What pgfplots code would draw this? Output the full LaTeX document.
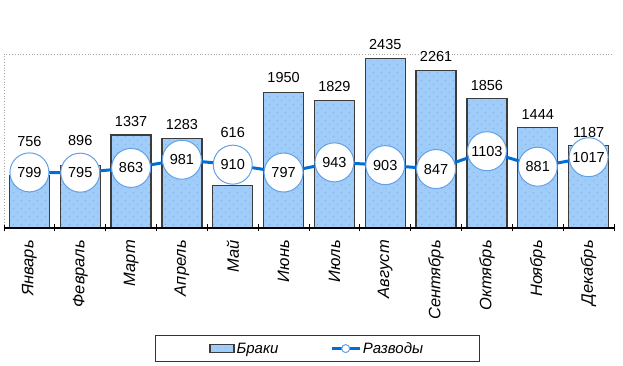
\documentclass[border=0pt]{standalone}
\usepackage{pgfplots}
\usepackage{pgfplotstable}
\pgfplotsset{compat=1.18}
\usepackage{fontspec}
\setmainfont{Liberation Sans}
\usetikzlibrary{patterns.meta}
\definecolor{barfill}{RGB}{160,204,250}
\definecolor{bardraw}{RGB}{60,60,60}
\definecolor{linecol}{RGB}{0,110,210}
\definecolor{circcol}{RGB}{100,160,230}
\definecolor{dotcol}{RGB}{90,150,230}
\tikzdeclarepattern{
  name=mydots,
  type=uncolored,
  bounding box={(0pt,0pt) and (8pt,8pt)},
  tile size={(8pt,8pt)},
  code={\fill (2pt,2pt) circle (0.5pt); \fill (6pt,6pt) circle (0.5pt);}
}
\pgfplotstableread{
x y off
0 756 28
1 896 19
2 1337 8
3 1283 8
4 616 47
5 1950 9
6 1829 8
7 2435 8
8 2261 8
9 1856 8
10 1444 7
11 1187 7
}\braki
\pgfplotstableread{
x y
0 799
1 795
2 863
3 981
4 910
5 797
6 943
7 903
8 847
9 1103
10 881
11 1017
}\razvody
\begin{document}
\begin{tikzpicture}
\useasboundingbox (-4pt,-138pt) rectangle (619pt,228pt);
\begin{axis}[
  at={(0pt,0pt)}, anchor=south west,
  scale only axis, width=610pt, height=174pt,
  xmin=-0.5, xmax=11.5, ymin=0, ymax=2500,
  ytick=\empty,
  xtick={0,...,11},
  xticklabels={Январь,Февраль,Март,Апрель,Май,Июнь,Июль,Август,Сентябрь,Октябрь,Ноябрь,Декабрь},
  minor xtick={-0.5,0.5,...,11.5},
  major tick length=0pt, minor tick length=7pt, tick align=center,
  xtick pos=bottom,
  tick style={black, line width=0.8pt},
  axis line style={draw=none},
  xticklabel style={rotate=90, anchor=east, inner sep=0pt, font=\itshape\fontsize{16.5}{18}\selectfont},
  xticklabel shift=12pt,
  clip=false,
  /pgf/number format/assume math mode=true,
  /pgf/number format/1000 sep={},
  legend columns=2,
  legend style={at={(0.2475,-0.615)}, anchor=north west, draw=black!80, line width=0.8pt,
    inner xsep=54pt, inner ysep=5pt,
    font=\itshape\fontsize{15}{17}\selectfont,
    /tikz/every even column/.append style={column sep=50pt}},
]
\addplot[ybar, bar width=40pt, draw=bardraw, line width=1.2pt, fill=barfill,
  postaction={pattern=mydots, pattern color=dotcol},
  legend image code/.code={\draw[draw=bardraw, line width=1.2pt, fill=barfill] (0pt,-4pt) rectangle (24pt,4pt);},
  visualization depends on={\thisrow{off} \as \myoff},
  nodes near coords,
  every node near coord/.append style={anchor=south, inner sep=0pt, yshift=\myoff pt, font=\fontsize{14.5}{16}\selectfont, text=black},
] table[x=x, y=y] {\braki};
\addlegendentry{Браки}
\addplot[color=linecol, line width=3pt, mark=*, mark size=19.5pt,
  mark options={fill=white, draw=circcol, line width=1pt},
  legend image code/.code={\draw[linecol, line width=2.5pt] (0pt,0pt) -- (28pt,0pt); \draw[fill=white, draw=circcol, line width=1pt] (14pt,0pt) circle (4pt);},
  nodes near coords,
  every node near coord/.append style={anchor=center, inner sep=0pt, font=\fontsize{14.5}{16}\selectfont, text=black},
] table[x=x, y=y] {\razvody};
\addlegendentry{Разводы}
\draw[gray!70, dotted, line width=0.8pt] (rel axis cs:0,0) -- (rel axis cs:0,1) -- (rel axis cs:1,1);
\draw[black, line width=1.2pt] (rel axis cs:0,0) -- (rel axis cs:1,0);
\end{axis}
\end{tikzpicture}
\end{document}
